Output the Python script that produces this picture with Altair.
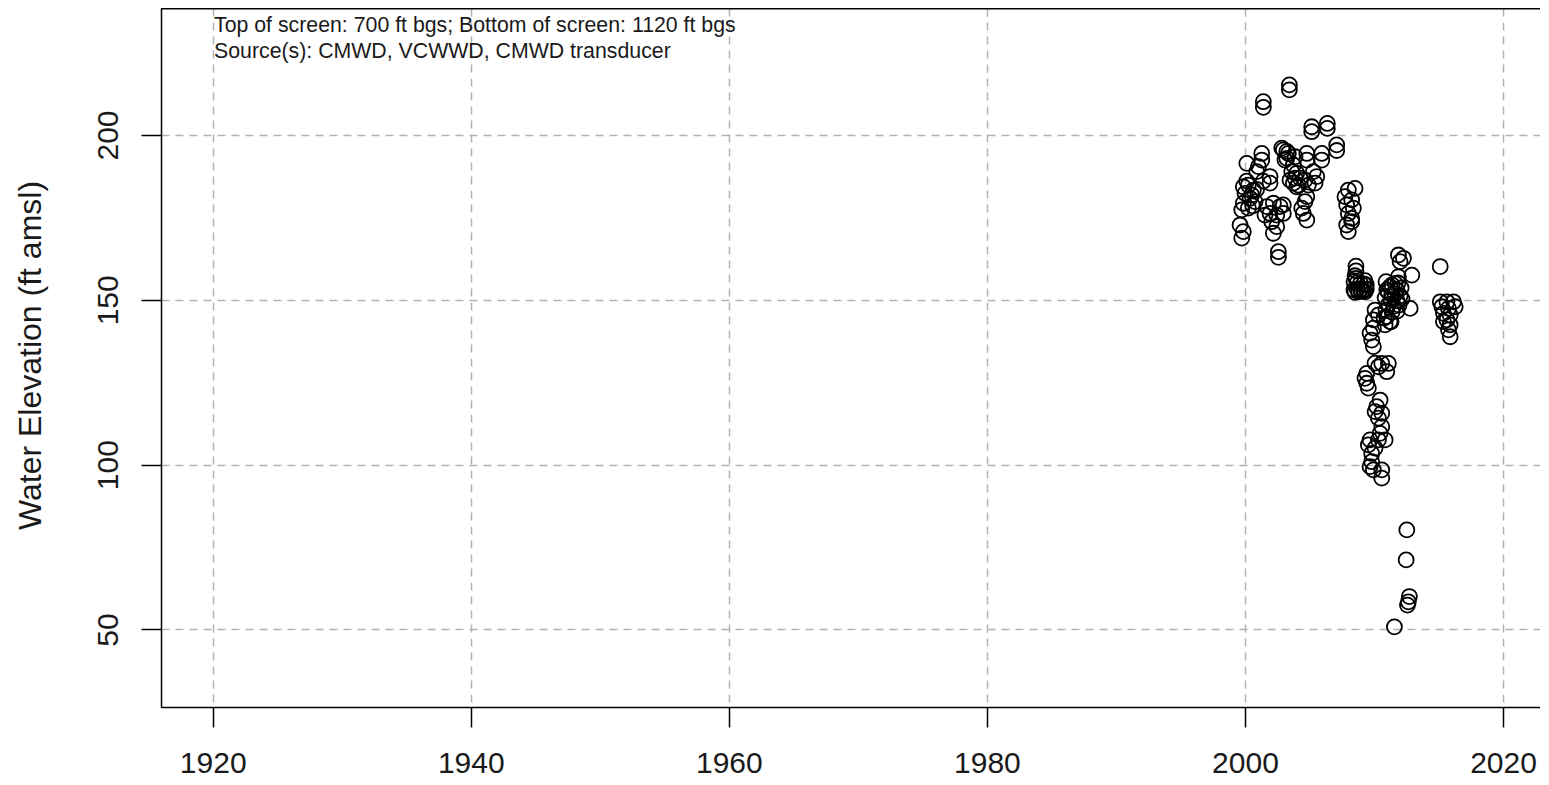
import altair as alt
import pandas as pd

# ---- data ----
yrs_2000_2003 = [2000.14, 2001.30, 2001.30, 2001.04, 2000.91, 2001.94, 2001.94,
                 1999.87, 2000.26, 2000.65, 2000.00, 2000.39, 1999.87, 2000.78, 2000.26, 1999.75,
                 1999.62, 1999.87, 1999.75,
                 2001.69, 2002.20, 2002.72, 2002.97, 2001.94, 2002.46, 2002.97, 2002.07, 2002.46, 2002.20, 2001.55,
                 2002.59, 2002.59, 2001.42, 2001.42, 2003.44, 2003.44,
                 2000.52, 2000.13, 2000.90, 2000.60, 2001.42]
elv_2000_2003 = [191.4, 194.4, 192.4, 190.4, 188.9, 187.4, 185.4,
                 184.3, 184.8, 183.3, 182.3, 180.8, 179.3, 179.8, 177.8, 177.3,
                 172.7, 170.7, 168.7,
                 178.3, 179.3, 178.3, 178.8, 176.2, 175.7, 176.2, 173.7, 172.2, 170.2, 175.7,
                 164.6, 162.9, 210.1, 208.4, 215.2, 213.7,
                 181.8, 186.0, 183.5, 178.5, 186.0]

yrs_2003_2007 = [2002.97, 2003.36, 2003.88, 2003.10, 2003.75, 2004.01, 2003.49, 2004.01,
                 2003.24, 2003.24, 2002.85, 2004.79, 2004.79, 2005.95, 2005.95, 2007.11, 2007.11,
                 2003.62, 2003.88, 2004.14, 2003.75, 2004.27,
                 2005.30, 2005.56, 2005.43, 2004.65, 2004.91, 2004.79, 2004.65,
                 2004.40, 2004.52, 2004.79, 2005.17, 2005.17, 2006.38, 2006.38]
elv_2003_2007 = [195.5, 194.4, 193.4, 192.4, 190.9, 188.4, 186.3, 184.3,
                 195.0, 192.9, 196.0, 194.4, 192.4, 194.4, 192.4, 197.0, 195.3,
                 188.9, 186.9, 184.8, 185.4, 186.9,
                 188.9, 187.4, 185.4, 186.3, 184.8, 181.3, 179.8,
                 177.8, 176.2, 174.2, 202.5, 201.0, 203.5, 202.0]

yrs_2008 = [2008.01, 2008.53, 2007.75, 2008.27, 2007.88, 2008.40, 2008.01, 2008.27, 2007.88, 2008.01, 2008.27]
elv_2008 = [183.3, 183.8, 181.3, 180.3, 178.8, 177.8, 176.2, 174.7, 172.7, 170.7, 173.7]

yrs_2008b = [2008.60, 2008.60, 2008.53, 2008.45, 2008.70, 2008.95, 2009.20, 2009.40,
             2008.45, 2008.70, 2008.95, 2009.20, 2009.40,
             2008.53, 2008.80, 2009.05, 2009.30, 2008.60, 2009.30]
elv_2008b = [160.2, 158.8, 157.3, 155.5, 155.2, 155.0, 154.8, 154.5,
             153.0, 153.2, 153.0, 152.8, 153.2,
             152.3, 152.5, 152.6, 152.4, 156.5, 155.8]

yrs_2010 = [2011.89, 2012.02, 2012.28, 2012.93, 2011.89, 2011.63, 2011.24, 2010.99, 2011.76, 2011.37,
            2010.93, 2011.40, 2011.86, 2012.10, 2011.09, 2011.63, 2012.02, 2010.86, 2011.32, 2011.79,
            2012.17, 2011.09, 2011.55, 2011.94, 2010.93, 2011.40, 2011.79, 2010.78, 2011.32,
            2012.80, 2010.08, 2010.34, 2009.95, 2010.99, 2011.24, 2010.86, 2009.95, 2009.69, 2009.82, 2009.95,
            2010.08, 2010.60, 2011.11, 2010.99, 2010.34, 2009.44, 2009.30, 2009.44, 2009.56,
            2010.47, 2010.21, 2010.08, 2010.60, 2010.34, 2010.60, 2010.47, 2010.86, 2010.34,
            2009.69, 2009.56, 2010.08, 2009.82, 2009.82, 2009.69, 2009.95, 2010.60, 2010.60]
elv_2010 = [163.6, 161.6, 162.6, 157.5, 157.0, 155.0, 154.0, 153.0, 153.0, 151.5,
            155.5, 154.5, 155.1, 153.6, 152.4, 151.8, 151.2, 150.6, 150.0, 149.7,
            150.3, 148.4, 148.1, 148.4, 146.9, 146.3, 146.6, 144.5, 143.3,
            147.4, 146.9, 145.4, 143.9, 144.9, 143.4, 142.4, 141.4, 139.9, 137.8, 135.8,
            130.8, 130.7, 130.7, 128.2, 129.7, 127.7, 126.2, 124.7, 123.2,
            119.6, 117.6, 116.1, 115.6, 114.1, 111.5, 109.5, 107.5, 107.5,
            107.5, 106.0, 105.0, 103.4, 100.9, 99.4, 98.4, 98.4, 95.9]

yrs_low = [2012.54, 2012.49, 2012.74, 2012.66, 2012.59, 2011.58]
elv_low = [80.2, 71.1, 60.0, 58.4, 57.4, 50.8]

yrs_2015 = [2015.13, 2015.13, 2015.65, 2016.16, 2015.26, 2015.77, 2016.29, 2015.38, 2015.90,
            2015.65, 2015.38, 2015.90, 2015.77, 2015.90]
elv_2015 = [160.1, 149.4, 149.4, 149.4, 147.9, 147.4, 147.9, 145.9, 145.4,
            143.9, 143.4, 142.4, 140.9, 138.8]

x_ticks = [1920, 1940, 1960, 1980, 2000, 2020]
y_ticks = [50, 100, 150, 200]
x_domain = [1915.993, 2022.863]
y_domain = [26.49, 238.52]
note_lines = ["Top of screen: 700 ft bgs; Bottom of screen: 1120 ft bgs",
              "Source(s): CMWD, VCWWD, CMWD transducer"]
y_title = "Water Elevation (ft amsl)"

years = yrs_2000_2003 + yrs_2003_2007 + yrs_2008 + yrs_2008b + yrs_2010 + yrs_low + yrs_2015
elevs = elv_2000_2003 + elv_2003_2007 + elv_2008 + elv_2008b + elv_2010 + elv_low + elv_2015
df = pd.DataFrame({"year": years, "elev": elevs})

FONT = "Liberation Sans"
TXT = "#1a1a1a"
W, H = 1379, 699

x_enc = alt.X(
    "year:Q",
    scale=alt.Scale(domain=x_domain, nice=False, zero=False),
    axis=alt.Axis(values=x_ticks, format="d", title=None, grid=True,
                  gridColor="#b3b3b3", gridDash=[8, 6], gridWidth=1.5,
                  tickSize=20, tickColor="black", tickWidth=1.5,
                  domainColor="black", domainWidth=1.5,
                  labelFont=FONT, labelFontSize=30, labelColor=TXT,
                  labelPadding=21, labelBaseline="top", labelAlign="center",
                  labelFlush=False, labelOverlap=False),
)
y_enc = alt.Y(
    "elev:Q",
    scale=alt.Scale(domain=y_domain, nice=False, zero=False),
    axis=alt.Axis(values=y_ticks, grid=True,
                  gridColor="#b3b3b3", gridDash=[8, 6], gridWidth=1.5,
                  tickSize=20, tickColor="black", tickWidth=1.5,
                  domainColor="black", domainWidth=1.5,
                  labelFont=FONT, labelFontSize=30, labelColor=TXT,
                  labelAngle=270, labelAlign="center", labelBaseline="alphabetic",
                  labelPadding=24, labelFlush=False, labelOverlap=False,
                  title=y_title, titleFont=FONT, titleFontSize=32,
                  titleFontWeight="normal", titleColor=TXT, titleAngle=270,
                  titleAlign="center", titleBaseline="alphabetic",
                  titleX=-121, titleY=347),
)

points = alt.Chart(df).mark_point(
    shape="circle", filled=False, color="black", strokeWidth=1.8, size=225, opacity=1
).encode(x=x_enc, y=y_enc)

notes = alt.Chart(pd.DataFrame({"note": ["\n".join(note_lines)]})).mark_text(
    align="left", baseline="alphabetic", font=FONT, fontSize=21.3, color=TXT,
    lineBreak="\n", lineHeight=26.6
).encode(text="note:N", x=alt.value(53), y=alt.value(23.7))

border = alt.Chart(pd.DataFrame({"a": [0]})).mark_rule(
    color="black", strokeWidth=1.5
).encode(x=alt.value(0), x2=alt.value(W), y=alt.value(0.75))

chart = alt.layer(points, notes, border).properties(
    width=W, height=H,
    autosize=alt.AutoSizeParams(type="none"),
    padding={"left": 153, "top": 0, "right": 0, "bottom": 70},
).configure_view(stroke=None).configure(background="white")

chart.save("out.html", embed_options={"renderer": "svg", "actions": False})
